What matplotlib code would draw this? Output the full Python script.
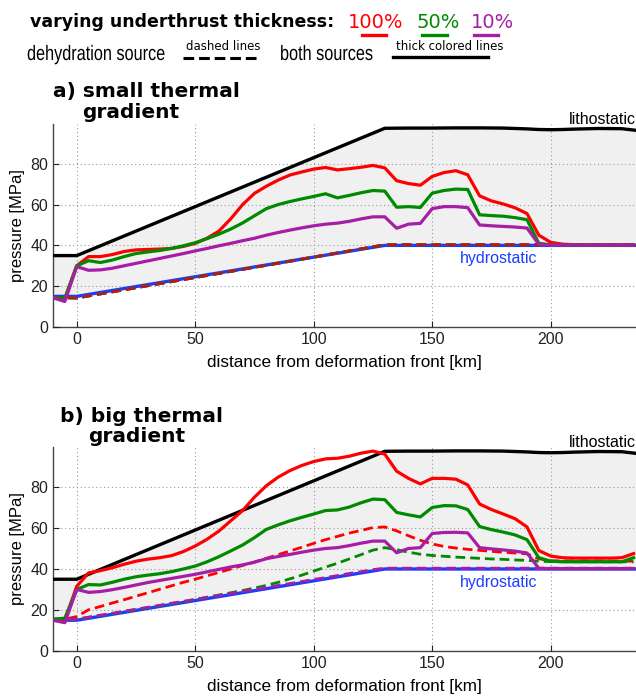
import matplotlib
matplotlib.use("Agg")
import numpy as np
import matplotlib.pyplot as plt
from matplotlib.lines import Line2D
from matplotlib.textpath import TextPath
from matplotlib.patches import PathPatch
from matplotlib.font_manager import FontProperties
from matplotlib.transforms import Affine2D, IdentityTransform

# ---- data ----
x_sol = [-10, -5, 0, 5, 10, 15, 20, 25, 30, 35, 40, 45, 50, 55, 60, 65, 70, 75, 80, 85,
         90, 95, 100, 105, 110, 115, 120, 125, 130, 135, 140, 145, 150, 155, 160, 165,
         170, 175, 180, 185, 190, 195, 200, 205, 210, 215, 220, 225, 230, 235]

# a) small thermal gradient, both sources
red_a = [14.5, 14, 30, 34.5, 34.5, 35.5, 37, 37.8, 38, 38.2, 38.5, 39.5, 41, 43.5, 47, 53,
         60, 65.5, 69, 72, 74.5, 76, 77.4, 78.2, 77, 77.6, 78.3, 79.2, 78, 71.7, 70.3, 69.5,
         73.8, 75.7, 76.6, 74.6, 64.3, 61.8, 60.3, 58.4, 55.6, 45, 41.5, 40.6, 40.3, 40.2,
         40.2, 40.2, 40.2, 40.2]
green_a = [14.5, 14, 30, 32.5, 31.6, 32.8, 34.5, 36, 36.8, 37.5, 38.5, 39.8, 41.3, 43.3, 45.5,
           48, 51, 54.5, 58, 60, 61.5, 62.8, 64, 65.3, 63.3, 64.5, 65.8, 66.9, 66.6, 58.7, 59,
           58.6, 65.6, 66.9, 67.6, 67.4, 55, 54.6, 54.3, 53.6, 52.6, 41, 40.3, 40.2, 40.2,
           40.2, 40.2, 40.2, 40.2, 40.2]
purple_a = [14.3, 12.5, 29.6, 27.8, 28, 28.8, 30, 31.2, 32.4, 33.6, 34.8, 36, 37.3, 38.5, 39.8,
            41, 42.3, 43.5, 45, 46.3, 47.5, 48.6, 49.6, 50.4, 50.9, 51.8, 53, 54, 54, 48.4,
            50.4, 50.8, 58, 59, 59, 58.5, 50, 49.6, 49.3, 49, 48.5, 40.5, 40.2, 40.2, 40.2,
            40.2, 40.2, 40.2, 40.2, 40.2]

# b) big thermal gradient, both sources
red_b = [15.2, 15, 31.5, 38.1, 39.2, 40.6, 42.3, 43.8, 44.8, 45.5, 46.5, 48.5, 51.2, 54.5,
         58.5, 63.5, 68.5, 75, 80.6, 84.8, 88, 90.5, 92.4, 93.7, 94, 95, 96.5, 97.5, 96,
         87.7, 84.2, 81.5, 84.2, 84.2, 83.8, 81, 71.7, 69, 66.8, 64.5, 60.5, 49, 46.3, 45.5,
         45.3, 45.3, 45.3, 45.3, 45.5, 47.5]
green_b = [15.5, 16, 30, 32.4, 32.2, 33.5, 35, 36.2, 37, 37.7, 38.7, 40, 41.4, 43.5, 46, 48.8,
           51.7, 55.3, 59.3, 61.5, 63.5, 65.2, 66.8, 68.5, 68.8, 70.2, 72.3, 74.1, 73.8, 67.6,
           66.4, 65.4, 70, 70.9, 70.8, 69, 60.7, 59.2, 58, 56.6, 54.3, 45.5, 43.8, 43.5, 43.5,
           43.5, 43.5, 43.5, 43.5, 45.5]
purple_b = [15, 13.8, 30, 28.6, 29, 29.9, 31, 32.2, 33.4, 34.4, 35.4, 36.4, 37.4, 38.6, 39.8,
            41, 42, 43.3, 45, 46.1, 47.1, 48.2, 49.2, 50, 50.4, 51.4, 52.6, 53.6, 53.6, 47.9,
            50, 50.4, 57.3, 57.8, 57.9, 57.6, 50.4, 49.8, 49.3, 48.7, 47.8, 40.3, 40.2, 40.2,
            40.2, 40.2, 40.2, 40.2, 40.2, 40.2]

# dehydration source only (dashed)
x_dash_a = [-10, -5, 0, 130, 235]
red_dash_a = [14.6, 14.3, 14.2, 40.3, 40.3]
green_dash_a = [14.6, 14.3, 14.2, 40.3, 40.3]
purple_dash_a = [14.6, 14.3, 14.2, 40.3, 40.3]

x_dash_b = [-10, -5, 0, 5, 10, 15, 20, 25, 30, 35, 40, 45, 50, 55, 60, 65, 70, 75, 80, 85,
            90, 95, 100, 105, 110, 115, 120, 125, 130, 135, 140, 145, 150, 155, 160, 165,
            170, 175, 180, 185, 190, 195, 200, 235]
red_dash_b = [15.5, 15.5, 16.8, 20.1, 21.7, 23.4, 25, 26.7, 28.4, 30.1, 31.8, 33.5, 35, 36.7,
              38.3, 40, 41.7, 43.4, 45.2, 47, 48.8, 50.6, 52.5, 54.3, 55.9, 57.5, 58.8, 60.2,
              60.5, 58.6, 56.2, 54, 52.2, 51, 50.2, 49.6, 49.1, 48.6, 48.2, 47.8, 47.4, 45,
              44, 43.8]
green_dash_b = [15.5, 15.5, 15.5, 16.4, 17.3, 18.2, 19.2, 20.2, 21.2, 22.1, 23.1, 24.1, 25.1,
                26.2, 27.3, 28.4, 29.5, 30.7, 32, 33.5, 35.2, 37, 39, 40.9, 42.8, 44.9, 47,
                49.2, 50.4, 49.4, 48.2, 47.2, 46.6, 46.2, 45.8, 45.5, 45.2, 44.9, 44.7, 44.4,
                44.2, 43.8, 43.6, 43.5]
purple_dash_b = [15.5, 15.5, 15.5, 16.5, 17.5, 18.4, 19.4, 20.4, 21.3, 22.3, 23.3, 24.2, 25.2,
                 26.2, 27.1, 28.1, 29.1, 30, 31, 32, 32.9, 33.9, 34.9, 35.8, 36.8, 37.8, 38.7,
                 39.7, 40.4, 40.4, 40.4, 40.4, 40.4, 40.4, 40.4, 40.4, 40.4, 40.4, 40.4, 40.4,
                 40.4, 40.4, 40.4, 40.4]

# reference pressures
x_hydro = [-10, 0, 130, 236]
hydro = [15, 15, 40, 40]
x_litho = [-10, 0, 130, 140, 150, 160, 170, 180, 190, 195, 200, 205, 210, 220, 230, 236]
litho = [35, 35, 97.4, 97.5, 97.5, 97.6, 97.6, 97.5, 97.1, 96.8, 96.7, 96.8, 97, 97.3, 97.2, 96.4]

RED, GREEN, PURPLE, BLUE = "#ff0000", "#008a00", "#a61ea6", "#1a3cff"
W, H = 636, 696
ARIAL = "Liberation Sans"


def fx(px):
    return px / W


def fy(py):
    return 1 - py / H


def draw_panel(ax, solids, dashes, x_dash):
    xf = np.linspace(-10, 236, 500)
    ax.fill_between(xf, np.interp(xf, x_hydro, hydro), np.interp(xf, x_litho, litho),
                    color="#f0f0f0", lw=0, zorder=1)
    ax.plot(x_hydro, hydro, color=BLUE, lw=2.4, zorder=3, solid_capstyle="butt")
    ax.plot(x_litho, litho, color="black", lw=2.4, zorder=4)
    for ys, c in dashes:
        ax.plot(x_dash, ys, color=c, lw=2.0, ls=(0, (3.5, 1.8)), zorder=5)
    for ys, c in solids:
        ax.plot(x_sol, ys, color=c, lw=2.3, zorder=6)

    ax.set_xlim(-10, 236)
    ax.set_ylim(0, 99.5)
    ax.set_xticks([0, 50, 100, 150, 200])
    ax.set_yticks([0, 20, 40, 60, 80])
    ax.grid(True, ls=(0, (1, 2.5)), color="#999999", lw=0.8)
    ax.set_axisbelow(False)
    for s in ("top", "right"):
        ax.spines[s].set_visible(False)
    for s in ("left", "bottom"):
        ax.spines[s].set_color("#444444")
        ax.spines[s].set_linewidth(1.0)
    ax.tick_params(direction="in", length=4, labelsize=11.5, colors="#222222")
    for lab in ax.get_xticklabels() + ax.get_yticklabels():
        lab.set_family(ARIAL)
    ax.set_xlabel("distance from deformation front [km]", fontsize=12.3, family=ARIAL,
                  labelpad=6)
    ax.set_ylabel("pressure [MPa]", fontsize=12, family=ARIAL, labelpad=4)
    ax.text(178, 33.5, "hydrostatic", color=BLUE, fontsize=11.5, family=ARIAL,
            ha="center", va="center", zorder=7)
    ax.text(236, 101.8, "lithostatic", color="black", fontsize=11.5, family=ARIAL,
            ha="right", va="center", clip_on=False)


def narrow_text(fig, s, px, py_base, size_pt=15, squeeze=0.78):
    # condensed sans text: Liberation Sans outlines squeezed horizontally
    tp = TextPath((0, 0), s, size=size_pt * fig.dpi / 72, prop=FontProperties(family=ARIAL))
    tr = Affine2D().scale(squeeze, 1.0).translate(px, H - py_base) + IdentityTransform()
    fig.add_artist(PathPatch(tp, transform=tr, facecolor="black", edgecolor="none"))


fig = plt.figure(figsize=(6.36, 6.96), dpi=100)

ax1 = fig.add_axes([fx(53), fy(327), fx(636) - fx(53), (327 - 124) / H])
draw_panel(ax1,
           [(red_a, RED), (green_a, GREEN), (purple_a, PURPLE)],
           [(purple_dash_a, PURPLE), (green_dash_a, GREEN), (red_dash_a, "#b01c1c")],
           x_dash_a)

ax2 = fig.add_axes([fx(53), fy(651), fx(636) - fx(53), (651 - 447) / H])
draw_panel(ax2,
           [(red_b, RED), (green_b, GREEN), (purple_b, PURPLE)],
           [(red_dash_b, RED), (green_dash_b, GREEN), (purple_dash_b, PURPLE)],
           x_dash_b)

# panel titles
fig.text(fx(53), fy(92), "a) small thermal", fontsize=14.5, fontweight="bold", va="center")
fig.text(fx(82), fy(112), "gradient", fontsize=14.5, fontweight="bold", va="center")
fig.text(fx(60), fy(416), "b) big thermal", fontsize=14.5, fontweight="bold", va="center")
fig.text(fx(88), fy(437), "gradient", fontsize=14.5, fontweight="bold", va="center")

# header legend
fig.text(fx(30), fy(22), "varying underthrust thickness:", fontsize=12.5,
         fontweight="bold", va="center")
for lab, c, px, (l0, l1) in [("100%", RED, 348, (362, 386)),
                             ("50%", GREEN, 417, (422, 447)),
                             ("10%", PURPLE, 471, (474, 498))]:
    fig.text(fx(px), fy(22), lab, color=c, fontsize=14, va="center")
    fig.add_artist(Line2D([fx(l0), fx(l1)], [fy(35), fy(35)], color=c, lw=2.4))

narrow_text(fig, "dehydration source", 27, 60)
fig.text(fx(186), fy(46), "dashed lines", fontsize=8.5, va="center")
fig.add_artist(Line2D([fx(183), fx(257)], [fy(58), fy(58)], color="black", lw=2.2,
                      ls=(0, (3.5, 1.6))))
narrow_text(fig, "both sources", 280, 60)
fig.text(fx(396), fy(47), "thick colored lines", fontsize=8.5, va="center")
fig.add_artist(Line2D([fx(393), fx(488)], [fy(57), fy(57)], color="black", lw=2.4))

fig.savefig("out.png", dpi=100)
